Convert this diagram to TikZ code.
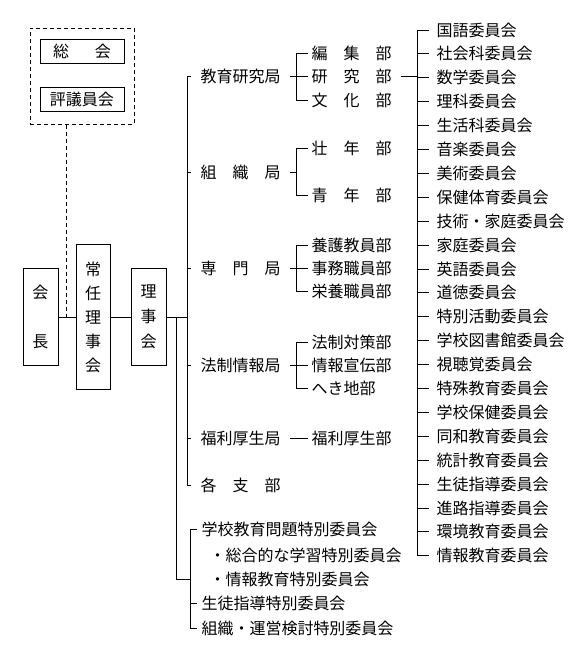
\documentclass[tikz,border=0pt]{standalone}
\usepackage{fontspec}
\setmainfont{Noto Sans CJK JP}
\begin{document}
\begin{tikzpicture}[x=0.75pt,y=-0.75pt,line width=0.75pt,
  every node/.style={font=\fontsize{12pt}{18pt}\selectfont},
  box/.style={draw,inner sep=0pt,align=center},
  bur/.style={anchor=west,inner xsep=6.75pt,inner ysep=0pt},
  sub/.style={anchor=west,inner xsep=2.25pt,inner ysep=0pt},
  com/.style={anchor=west,inner xsep=5.25pt,inner ysep=0pt},
  spc/.style={anchor=west,inner xsep=3pt,inner ysep=0pt},
  dsh/.style={dash pattern=on 3pt off 2.25pt}]
\useasboundingbox (0,0) rectangle (580,658);
% left column
\node[draw,dsh,minimum width=78pt,minimum height=72pt,inner sep=0pt] (giin) at (82,76) {};
\node[box,minimum width=63pt,minimum height=18pt] (sokai) at (82,51) {総\hspace{1.6em}会};
\node[box,minimum width=63pt,minimum height=18pt] (hyogi) at (82,99) {評議員会};
\node[box,minimum width=26.25pt,minimum height=72.75pt] (kaicho) at (40.5,317) {会\\[18.75pt]長};
\node[box,minimum width=25.5pt,minimum height=108.75pt] (jonin) at (93,317) {常\\任\\理\\事\\会};
\node[box,minimum width=26.25pt,minimum height=72.75pt] (riji) at (148.5,317) {理\\[0.75pt]事\\[0.75pt]会};
\coordinate (dj) at (66,317);
\draw[dsh] (giin.south -| dj) -- (dj);
\draw (kaicho.east) -- (jonin.west);
\draw (jonin.east) -- (riji.west);
% bureaus
\coordinate (tr) at (187,0);
\coordinate (t2) at (176,0);
\node[bur] (b1) at (191,76) {教育研究局};
\node[bur] (b2) at (191,172) {組　織　局};
\node[bur] (b3) at (191,268) {専　門　局};
\node[bur] (b4) at (191,365) {法制情報局};
\node[bur] (b5) at (191,438) {福利厚生局};
\node[bur] (b6) at (191,485) {各　支　部};
\draw (riji.east) -- (riji.east -| tr);
\draw (b1.west) -- (b1.west -| tr) -- (b6.west -| tr) -- (b6.west);
\foreach \b in {b2,b3,b4,b5} \draw (\b.west -| tr) -- (\b.west);
% departments
\coordinate (br) at (296,0);
\node[sub] (s11) at (308,53) {編　集　部};
\node[sub] (s12) at (308,76) {研　究　部};
\node[sub] (s13) at (308,100) {文　化　部};
\node[sub] (s21) at (308,148) {壮　年　部};
\node[sub] (s22) at (308,195) {青　年　部};
\node[sub] (s31) at (308,245) {養護教員部};
\node[sub] (s32) at (308,268) {事務職員部};
\node[sub] (s33) at (308,291) {栄養職員部};
\node[sub] (s41) at (308,342) {法制対策部};
\node[sub] (s42) at (308,365) {情報宣伝部};
\node[sub] (s43) at (308,388) {へき地部};
\node[sub] (s51) at (308,438) {福利厚生部};
\foreach \b/\f/\l in {b1/s11/s13,b2/s21/s22,b3/s31/s33,b4/s41/s43}{
  \draw (\b.east) -- (\b.east -| br);
  \draw (\f.west) -- (\f.west -| br) -- (\l.west -| br) -- (\l.west);
}
\foreach \m in {s12,s32,s42} \draw (\m.west -| br) -- (\m.west);
\draw (b5.east) -- (s51.west);
% committees
\coordinate (ct) at (417,0);
\foreach \t [count=\i from 0] in {国語委員会,社会科委員会,数学委員会,理科委員会,生活科委員会,音楽委員会,美術委員会,保健体育委員会,技術・家庭委員会,家庭委員会,英語委員会,道徳委員会,特別活動委員会,学校図書館委員会,視聴覚委員会,特殊教育委員会,学校保健委員会,同和教育委員会,統計教育委員会,生徒指導委員会,進路指導委員会,環境教育委員会,情報教育委員会}{
  \node[com] (c\i) at (429,{30+23.9*\i}) {\t};
}
\draw (c0.west) -- (c0.west -| ct) -- (c22.west -| ct) -- (c22.west);
\foreach \i in {1,...,21} \draw (c\i.west -| ct) -- (c\i.west);
\draw ([xshift=4.5pt]s12.east) -- (s12.east -| ct);
% special committees
\coordinate (sp) at (190,0);
\node[spc] (p1) at (197,529) {学校教育問題特別委員会};
\node[spc] (p2) at (205,555) {・総合的な学習特別委員会};
\node[spc] (p3) at (205,579) {・情報教育特別委員会};
\node[spc] (p4) at (197,603) {生徒指導特別委員会};
\node[spc] (p5) at (197,628) {組織・運営検討特別委員会};
\draw (riji.east -| t2) -- (p3.west -| t2) -- (p3.west -| sp);
\draw (p1.west) -- (p1.west -| sp) -- (p5.west -| sp) -- (p5.west);
\draw (p4.west -| sp) -- (p4.west);
\end{tikzpicture}
\end{document}
